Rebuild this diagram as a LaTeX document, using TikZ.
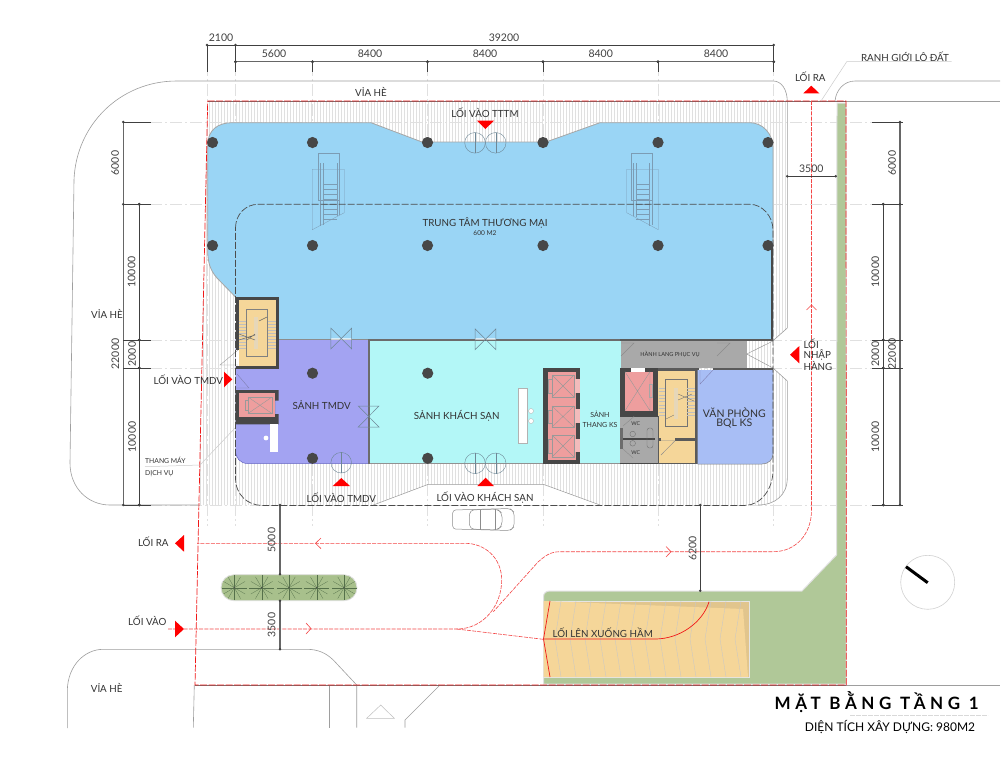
\documentclass[tikz,border=0pt]{standalone}
\usepackage{fontspec}
\setmainfont{Lato}
\usetikzlibrary{calc}
\definecolor{cblue}{HTML}{9AD5F5}
\definecolor{cpurple}{HTML}{A3A3F2}
\definecolor{ccyan}{HTML}{B3F7F7}
\definecolor{coffice}{HTML}{A8BEF5}
\definecolor{corange}{HTML}{F5D699}
\definecolor{cpink}{HTML}{EE9E9E}
\definecolor{cwall}{HTML}{474747}
\definecolor{cgray}{HTML}{A9A9A9}
\definecolor{cgreen}{HTML}{B0C898}
\definecolor{cred}{HTML}{F01818}
\definecolor{cplant}{HTML}{A8C08C}
\definecolor{cesc}{HTML}{7C9CB4}
\definecolor{cdoor}{HTML}{6E8796}
\definecolor{cleaf}{HTML}{55704A}
\tikzset{
  txt/.style={inner sep=0pt,text=black!80,font=\fontsize{9.8}{11}\selectfont},
  dimtxt/.style={inner sep=0pt,text=black!75,font=\fontsize{10.5}{12}\selectfont},
  vdim/.style={dimtxt,rotate=90},
  dimline/.style={draw=black!75,line width=0.8pt},
  dimheavy/.style={draw=black!60,line width=1.2pt},
  ext/.style={draw=black!12,line width=0.5pt,dash pattern=on 12pt off 3pt on 2pt off 3pt},
  curb/.style={draw=black!38,line width=0.6pt},
  red route/.style={draw=cred!80!white,line width=0.6pt,dash pattern=on 4pt off 1.2pt},
  mark red/.style={fill=red},
  thinst/.style={draw=black!55,line width=0.4pt},
  esc/.style={draw=cesc,line width=0.3pt},
  bow/.style={draw=cdoor,line width=0.5pt}
}
\newcommand{\tk}[2]{\fill[black!75] (#1,#2) circle (1.4pt);}
\begin{document}
\begin{tikzpicture}[x=1pt,y=-1pt]
\useasboundingbox (0,0) rectangle (1008,756);
\fill[white] (0,0) rectangle (1008,756);
%% hatch
\begin{scope}
\clip (207.7,101) -- (787,101) -- (787,328) -- (773,340) -- (773,368) -- (787,381) -- (787,478) .. controls (787,495) and (775,505) .. (758,505) -- (600,505) -- (543,484.3) -- (428.3,484.3) -- (373.3,505) -- (199,505) -- cycle;
\foreach \x in {200,203,...,790} \draw[black!12,line width=0.4pt] (\x,100) -- (\x,506);
\end{scope}
%% extension lines
\foreach \x in {207,235.5,312.5,427.5,543,658,773.7} \draw[ext] (\x,64) -- (\x,526);
\foreach \y in {122,204.3,340,368,505} \draw[ext] (150,\y) -- (872,\y);
%% curbs
\draw[curb] (74,180) .. controls (76,125) and (120,81) .. (176.7,81) -- (773,81) .. controls (782,81) and (787,90) .. (787.3,101) -- (787.3,328) -- (773,340.7);
\draw[curb] (74,180) -- (70,463) .. controls (70,488) and (88,505) .. (110,505) -- (199,505);
\draw[curb] (773,368) -- (787.3,381) -- (787.3,478) .. controls (787.3,495) and (775,505) .. (758,505);
\draw[curb] (835,101) .. controls (836,90) and (844,81) .. (855,81) -- (1000,81);
\draw[curb] (846,101) -- (1000,101);
\draw[curb] (846,685) -- (1000,685);
\draw[curb] (67.3,728) -- (67.3,690) .. controls (68,665) and (85,649.3) .. (103.3,649.3) -- (306.7,649.3) .. controls (318,649.3) and (326,653) .. (333.3,660) -- (356.7,685) -- (356.7,727.7);
\draw[curb] (329.3,685) -- (329.3,727.7);
\draw[curb] (194.3,685) -- (193.3,727.7);
\draw[curb] (440,685) -- (405,720) -- (405,727.7);
\draw[black!25,line width=0.5pt] (366.7,718.3) -- (394.3,718.3) -- (380.7,705) -- cycle;
%% green land
\fill[cgreen,draw=black!12,line width=1pt] (837,103) -- (846,103) -- (846,684) -- (543.5,684) -- (543.5,597) .. controls (543.5,593) and (546,591) .. (550,591) -- (802,591) -- (836.5,555) -- cycle;
%% ramp
\fill[corange!92!black,draw=black!10,line width=0.7pt] (543.5,601) rectangle (749.5,677);
\fill[corange] (543.5,601) -- (743,609) -- (748,677) -- (543.5,677) -- cycle;
\begin{scope}
\clip (543.5,601) rectangle (749.5,677);
\foreach \x in {555,570,...,735} \draw[black!22,line width=0.35pt] (\x+6,601) -- (\x,639) -- (\x+6,677);
\end{scope}
\draw[cred,line width=0.7pt] (550,601) -- (543.5,639) -- (550,677);
\draw[cred,line width=0.7pt] (543.5,639) -- (655,639) .. controls (680,639) and (703,622) .. (709,601.7);
%% blue zone
\fill[cblue] (207.7,145) .. controls (207.7,130) and (218,122.7) .. (232,122.7) -- (371,122.7) -- (422,142) -- (546,142) -- (600,122.7) -- (750,122.7) .. controls (762,122.7) and (773,133) .. (773,148) -- (773,340) -- (279,340) -- (279,297) -- (235.5,297) -- (217,278) .. controls (210,270) and (207.7,262) .. (207.7,250) -- cycle;
\draw[black!35,line width=0.8pt] (207.7,145) .. controls (207.7,130) and (218,122.7) .. (232,122.7) -- (371,122.7) -- (422,142) -- (546,142) -- (600,122.7) -- (750,122.7) .. controls (762,122.7) and (773,133) .. (773,148) -- (773,245);
\draw[black!35,line width=0.8pt] (207.7,145) -- (207.7,250) .. controls (207.7,262) and (210,270) .. (217,278) -- (235.5,297);
\draw[cwall,line width=2.5pt] (772,245) -- (772,340);
%% escalators
\begin{scope}[esc]
\draw (318.3,153.3) rectangle (339.3,200);
\draw (312.3,169.3) -- (344.3,169.3) -- (344.3,212.7) -- (312.3,229.7) -- cycle;
\draw (320,163) -- (320,226) (322.7,163) -- (322.7,225);
\draw (336.7,163) -- (336.7,216) (339.3,163) -- (339.3,215);
\foreach \y in {184,189,...,221} \draw (322.7,\y) -- (336.7,\y);
\draw (631.3,153.3) rectangle (652.3,200);
\draw (626.7,169.3) -- (658.3,169.3) -- (658.3,229.7) -- (626.7,212.7) -- cycle;
\draw (633.3,163) -- (633.3,216) (636,163) -- (636,217);
\draw (649,163) -- (649,226) (651.7,163) -- (651.7,225);
\foreach \y in {184,189,...,221} \draw (636,\y) -- (649,\y);
\end{scope}
%% purple lobby
\path[fill=cpurple] (235.5,339) -- (368,339) -- (368,463.5) -- (248,463.5) .. controls (240,463.5) and (235.5,458) .. (235.5,450) -- cycle;
\draw[black!45,line width=0.4pt] (279,339) -- (368,339);
\draw[blue!60!black!60,line width=0.5pt] (235.5,450) .. controls (235.5,458) and (240,463.5) .. (248,463.5) -- (368,463.5);
%% cyan lobby
\fill[ccyan] (368,339) rectangle (621,463.5);
\draw[cwall!80,line width=2.2pt] (369,463.5) -- (369,340) -- (621,340);
\draw[cwall!60,line width=0.5pt] (370,463.5) -- (621,463.5);
%% corridor
\fill[cgray] (620.7,341) rectangle (746.7,368);
\draw[cwall!90,line width=1.4pt] (620,340) -- (773,340);
\begin{scope}[thinst,draw=black!45]
\draw (621,343) -- (634,343) -- (621,356);
\draw (717,343) -- (730,343) -- (717,356);
\draw (773,341) -- (746.7,354) -- (773,368);
\end{scope}
%% core stair left
\fill[cwall] (235.5,296.5) rectangle (278.5,369);
\fill[corange] (238.5,299.5) rectangle (275.5,366);
\fill[white] (235.5,350) rectangle (238.5,366);
\begin{scope}[thinst,draw=black!50]
\draw (246,309) rectangle (267.5,356.5);
\foreach \y in {321,324,...,349} {\draw[black!25] (238.5,\y) -- (246,\y); \draw[black!25] (267.5,\y) -- (275.5,\y);}
\end{scope}
\fill[black!15,opacity=.5] (254,317) rectangle (258,349);
\draw[black!60,line width=0.5pt] (259,321) -- (267,317);
\draw[black!60,line width=0.5pt] (239,334) -- (255,340) (239,340) -- (255,335) (247,340) -- (255,334);
\draw[black!40,line width=0.4pt] (238,350) -- (220,365) -- (238,365);
\draw[blue!40!black!50,line width=0.4pt] (237,374) -- (249,388) -- (236,388);
%% service lift
\fill[cwall] (235.5,390) -- (278.5,390) -- (278.5,400.5) -- (275,400.5) -- (275,414) -- (278.5,414) -- (278.5,424.3) -- (235.5,424.3) -- cycle;
\fill[cpink] (239,393.3) rectangle (275,416.8);
\begin{scope}[thinst,draw=black!40]
\draw (248,397) rectangle (272,413.5);
\draw (248,397) -- (272,413.5) (248,413.5) -- (272,397);
\draw (245.5,400) rectangle (248,410);
\end{scope}
\fill[white] (270,424.3) rectangle (278,451.5);
\fill[white] (266,438) circle (2.4pt);
%% hotel lift
\fill[cwall] (543.3,368) rectangle (580,464);
\fill[cpink] (548,371.7) rectangle (576,460);
\fill[cpink!70!white] (575,379) rectangle (580,393);
\fill[cpink!70!white] (575,409) rectangle (580,423);
\fill[cpink!70!white] (575,439) rectangle (580,452);
\begin{scope}[thinst,draw=black!40]
\foreach \a/\b in {375/397,406/427,435/457} {
\draw (552,\a) rectangle (574,\b);
\draw (552,\a) -- (574,\b) (552,\b) -- (574,\a);
\draw (548.5,\a+4) rectangle (552,\b-4);}
\end{scope}
%% reception
\fill[white,draw=black!30,line width=0.3pt] (518,388) rectangle (527,443);
\fill[white,draw=black!30,line width=0.3pt] (531,411) circle (2.5pt);
\fill[white,draw=black!30,line width=0.3pt] (531,421) circle (2.5pt);
%% small lift and WC
\fill[cgray] (620,416) rectangle (658,464);
\fill[cwall] (620,368.3) rectangle (657.7,416);
\fill[cpink] (625,371.7) rectangle (653.3,410.7);
\fill[white] (630.7,368) rectangle (645,371.7);
\draw[thinst,draw=black!40] (625,371.7) -- (650,410.7) (650,371.7) -- (625,410.7) (650,371.7) -- (650,410.7);
\draw[black!35,line width=0.4pt] (649.5,384) rectangle (652.5,397);
\fill[cwall] (623,437.6) rectangle (655,439.6);
\fill[cwall!80] (620,428) rectangle (622.5,449);
\fill[cwall] (620,462.6) rectangle (658,464.4);
\fill[cwall] (620,416) rectangle (658,417);
\draw[black!55,line width=0.4pt] (632.7,434) circle (2.8pt) (632.7,443.3) circle (2.8pt);
\draw[black!55,line width=0.4pt,rounded corners=2.5pt] (647,428) rectangle (653,448);
\draw[black!45,line width=0.4pt] (623,426) -- (634,416.5) (623,449) -- (633,458);
%% right stair
\fill[corange] (658,368.5) rectangle (695,464);
\fill[cwall!90] (658,368) rectangle (699,371);
\fill[cwall!90] (695,368) rectangle (697.7,464);
\fill[cwall!90] (657.7,416) rectangle (658.7,464);
\fill[cwall!90] (675,438) rectangle (695,440.7);
\fill[cwall!90] (658,438) rectangle (661,440.7);
\fill[cwall!90] (658,462.7) rectangle (697.7,464.4);
\begin{scope}[thinst,draw=black!55]
\draw (665,379.3) rectangle (686.7,426);
\foreach \y in {388,391.4,...,417} {\draw[black!25] (658.7,\y) -- (665,\y); \draw[black!25] (686.7,\y) -- (695,\y);}
\draw (666,419) -- (674,415);
\draw (678,394) -- (694,401) (678,400) -- (692,394);
\end{scope}
\fill[black!15,opacity=.5] (674,387.7) rectangle (678.3,419.3);
\draw[black!45,line width=0.4pt] (661,455) -- (675,440.7) -- (661,440.7);
%% office
\fill[coffice] (697.7,370) -- (773,370) -- (773,454) .. controls (773,460) and (768,464) .. (762,464) -- (697.7,464) -- cycle;
\draw[cwall!90,line width=2pt] (713,369) -- (773,369);
\draw[black!50,line width=0.5pt] (773,370) -- (773,454) .. controls (773,460) and (768,464) .. (762,464) -- (697.7,464);
\draw[blue!40!black!50,line width=0.4pt] (700,370) -- (700,384) -- (713,370);
%% outer dashed outline
\draw[black!70,line width=0.7pt,dash pattern=on 7pt off 2pt] (235.5,228) .. controls (235.5,214) and (246,204.3) .. (258,204.3) -- (750,204.3) .. controls (762,204.3) and (773,216) .. (773,230) -- (773,470) .. controls (773,490) and (760,505.4) .. (745,505.4) -- (262,505.4) .. controls (248,505.4) and (235.5,495) .. (235.5,478) -- cycle;
%% trapezoid
\draw[black!40,line width=0.5pt] (373.3,505) -- (428.3,484.3) -- (543.3,484.3) -- (600,505);
%% door bows
\foreach \cx/\cy in {341.2/338.5,485.5/339.3} {
\fill[white,opacity=0.6] (\cx-10.4,\cy-1) rectangle (\cx+10.4,\cy+1);
\draw[bow] (\cx-10.4,\cy-10.4) -- (\cx+10.4,\cy+10.4) -- (\cx+10.4,\cy-10.4) -- (\cx-10.4,\cy+10.4) -- cycle;}
\draw[bow] (358.3,406) -- (379,406) -- (358.3,427) -- (379,427) -- cycle;
%% swing doors
\begin{scope}[draw=cdoor,line width=0.4pt]
\foreach \cx/\cy in {475/142.8,495.7/142.8,475/463.3,495.7/463.3,341.2/462.7} {
\draw (\cx,\cy) circle (10.3pt);
\draw (\cx,\cy-10.3) -- (\cx,\cy+10.3);}
\end{scope}
%% columns
\foreach \x in {212.5,312.5,427.5,543,658,768} {\fill[cwall] (\x,142.5) circle (5.6pt); \fill[cwall] (\x,245.5) circle (5.6pt);}
\foreach \x in {312.5,427.7} {\fill[cwall] (\x,373.2) circle (5.6pt); \fill[cwall] (\x,458.3) circle (5.6pt);}
%% boundary
\draw[black!55,line width=0.5pt] (207.7,101) -- (846,101) (195,685) -- (846,685);
\draw[cred,line width=0.7pt,dash pattern=on 7pt off 1.5pt] (207.7,101) -- (846,101) -- (846.3,685) -- (195,685) -- cycle;
%% routes
\draw[red route] (811.5,101) -- (811.5,510) .. controls (811.5,535) and (795,551.7) .. (773.3,551.7) -- (560,551.7) .. controls (550,551.7) and (545,556) .. (538,562) -- (493.3,611.7);
\draw[red route] (168,629) -- (456.7,629) .. controls (484,629) and (501.7,605) .. (501.7,580) .. controls (501.7,558) and (485,543.3) .. (465,543.3) -- (197,543.3);
\draw[red route] (456.7,629) -- (543.3,639.3);
\draw[cred!80!white,line width=0.6pt] (321,538) -- (315.5,543.3) -- (321,548.6);
\draw[cred!80!white,line width=0.6pt] (306,623) -- (311,628.5) -- (306,634);
\draw[cred!80!white,line width=0.6pt] (666,546.5) -- (671,551.7) -- (666,557);
\draw[cred!80!white,line width=0.6pt] (806.5,310) -- (811.5,305) -- (816.5,310);
%% red triangles
\fill[mark red] (477,120.7) -- (494,120.7) -- (485.3,129) -- cycle;
\fill[mark red] (803.3,93.3) -- (819.3,93.3) -- (811.3,85.7) -- cycle;
\fill[mark red] (224,371.7) -- (224,387.3) -- (232.3,379.3) -- cycle;
\fill[mark red] (332.7,486) -- (350,486) -- (341.3,478) -- cycle;
\fill[mark red] (477.3,486) -- (494,486) -- (485.7,477.7) -- cycle;
\fill[mark red] (799.3,346) -- (799.3,363.3) -- (790,354.7) -- cycle;
\fill[mark red] (184,535) -- (184,551.7) -- (175,543.3) -- cycle;
\fill[mark red] (175,620.7) -- (175,637.3) -- (184,629) -- cycle;
%% planter
\fill[cplant,draw=black!12,line width=0.8pt] (234,574.7) -- (344,574.7) arc[start angle=-90,end angle=90,radius=13] -- (234,600.7) arc[start angle=90,end angle=270,radius=13] -- cycle;
\foreach \x in {234.3,261.7,289,316.7,344} {
\foreach \a in {0,30,...,330} \draw[cleaf,line width=0.25pt] (\x,587.7) -- ++(\a:12.5);
\fill[black!70] (\x,587.7) circle (0.7pt);}
%% car
\begin{scope}[draw=black!45,line width=0.5pt]
\draw[rounded corners=3pt] (452.7,510) -- (510,508.5) -- (514,512) -- (514,527) -- (510,530.5) -- (452.7,529) -- cycle;
\draw[rounded corners=4pt] (470,510) -- (497,509) -- (502,513) -- (502,526) -- (497,530) -- (470,529) -- (469,520) -- cycle;
\draw (480,509.5) -- (480,529.5) (495,509) -- (495,530);
\end{scope}
%% dimensions top
\draw[dimline] (207,45) -- (773.7,45);
\draw[dimheavy] (235.5,61.7) -- (773.7,61.7);
\foreach \x in {207,235.5} \draw[dimline,line width=.6pt] (\x,45) -- (\x,72);
\foreach \x in {312.5,427.5,543,658} \draw[dimline] (\x,61.7) -- (\x,72);
\draw[dimline,line width=.6pt] (773.7,45) -- (773.7,72);
\foreach \x in {207,235.5,773.7} \tk{\x}{45}
\foreach \x in {235.5,312.5,427.5,543,658,773.7} \tk{\x}{61.7}
%% dimensions left
\draw[dimheavy] (123.3,122) -- (123.3,505);
\draw[dimline] (139.3,204.3) -- (139.3,505);
\foreach \y in {122,204.3} \draw[dimline] (123,\y) -- (151,\y);
\foreach \y in {340,368,505} \draw[dimline] (123,\y) -- (151,\y);
\foreach \y in {122,204.3,505} \tk{123.3}{\y}
\foreach \y in {204.3,340,368,505} \tk{139.3}{\y}
%% dimensions right
\draw[dimheavy] (900,122) -- (900,505);
\draw[dimline] (883.3,204.3) -- (883.3,505);
\foreach \y in {122,204.3,340,368,505} \draw[dimline] (872,\y) -- (903,\y);
\foreach \y in {122,204.3,505} \tk{900}{\y}
\foreach \y in {204.3,340,368,505} \tk{883.3}{\y}
%% dims misc
\draw[dimline,line width=.6pt] (787.3,176.3) -- (835.7,176.3); \tk{787.3}{176.3} \tk{835.7}{176.3}
\draw[dimheavy] (280,505) -- (280,574.3); \draw[dimheavy] (280,600.7) -- (280,649.3);
\foreach \y in {505,574.3,600.7,649.3} \tk{280}{\y}
\draw[dimline] (700.3,505) -- (700.3,590.7); \tk{700.3}{505} \tk{700.3}{590.7}
%% leaders
\draw[black!20,line width=0.5pt] (821,101) -- (846.7,61.7) -- (951.7,61.7);
\draw[black!20,line width=0.5pt] (235,428) -- (200,465) -- (145,466.7);
%% compass
\draw[black!18,line width=0.6pt] (927.7,582.3) circle (27pt);
\draw[black,line width=3pt] (906,566.7) -- (927.7,582.7);
%% title rule
\draw[black!15,line width=0.5pt,dash pattern=on 5pt off 1pt] (850,715.7) -- (988,715.7);
%% texts
\node[dimtxt] (d1) at (221,37.3) {2100};
\node[dimtxt] (d2) at (504,37.3) {39200};
\node[dimtxt] (d3) at (274,53.7) {5600};
\node[dimtxt] (d4) at (370,53.7) {8400};
\node[dimtxt] (d5) at (485,53.7) {8400};
\node[dimtxt] (d6) at (600.7,53.7) {8400};
\node[dimtxt] (d7) at (716,53.7) {8400};
\node[dimtxt] (d8) at (811.3,169) {3500};
\node[vdim] (l1) at (115,163) {6000};
\node[vdim] (l2) at (131.7,272) {10000};
\node[vdim] (l3) at (115.3,354) {22000};
\node[vdim] (l4) at (132,354) {2000};
\node[vdim] (l5) at (132,437) {10000};
\node[vdim] (r1) at (892,163) {6000};
\node[vdim] (r2) at (875.3,272) {10000};
\node[vdim] (r3) at (892,354) {22000};
\node[vdim] (r4) at (875.3,354) {2000};
\node[vdim] (r5) at (875.3,437) {10000};
\node[vdim] (b1) at (271.7,540) {5000};
\node[vdim] (b2) at (271.7,625) {3500};
\node[vdim] (b3) at (692.7,548.3) {6200};
\node[txt] (t1) at (371,91.7) {VỈA HÈ};
\node[txt] (t2) at (485,112.3) {LỐI VÀO TTTM};
\node[txt] (t3) at (810.3,76.7) {LỐI RA};
\node[txt] (t4) at (905,56.3) {RANH GIỚI LÔ ĐẤT};
\node[txt] (t5) at (485,222.7) {TRUNG TÂM THƯƠNG MẠI};
\node[txt,font=\fontsize{6.6}{8}\selectfont] (t6) at (485,233) {600 M2};
\node[txt] (t7) at (107,314) {VỈA HÈ};
\node[txt] (t8) at (188.3,379.3) {LỐI VÀO TMDV};
\node[txt] (t9) at (321.7,405.3) {SẢNH TMDV};
\node[txt] (t10) at (456.7,416) {SẢNH KHÁCH SẠN};
\node[txt,font=\fontsize{7}{10}\selectfont,align=center] (t11) at (600,419) {SẢNH\\THANG KS};
\node[txt,font=\fontsize{10.5}{9.6}\selectfont,align=center] (t12) at (734.3,418) {VĂN PHÒNG\\BQL KS};
\node[txt,font=\fontsize{5.6}{7}\selectfont] (t13) at (670,354.7) {HÀNH LANG PHỤC VỤ};
\node[txt,font=\fontsize{5.2}{6}\selectfont] (t14) at (635.7,424) {WC};
\node[txt,font=\fontsize{5.2}{6}\selectfont] (t15) at (635.7,452.7) {WC};
\node[txt,anchor=west,align=left,font=\fontsize{9.8}{9.7}\selectfont] (t16) at (803.3,354.5) {LỐI\\NHẬP\\HÀNG};
\node[txt,anchor=west,align=left,font=\fontsize{6.8}{11.5}\selectfont] (t17) at (145,467) {THANG MÁY\\DỊCH VỤ};
\node[txt] (t18) at (341.3,497.3) {LỐI VÀO TMDV};
\node[txt] (t19) at (485,497.7) {LỐI VÀO KHÁCH SẠN};
\node[txt] (t20) at (153.3,541.3) {LỐI RA};
\node[txt] (t21) at (147.3,620.3) {LỐI VÀO};
\node[txt] (t22) at (106.7,688.3) {VỈA HÈ};
\node[txt] (t23) at (602.7,632.3) {LỐI LÊN XUỐNG HẦM};
\node[inner sep=0pt,text=black,font=\fontsize{17}{18}\bfseries\selectfont] (t24) at (876.7,701.7) {\addfontfeature{LetterSpace=27}MẶT BẰNG TẦNG 1};
\node[txt,text=black,font=\fontsize{12}{13}\selectfont] (t25) at (890,726.7) {DIỆN TÍCH XÂY DỰNG: 980M2};
\end{tikzpicture}
\end{document}
